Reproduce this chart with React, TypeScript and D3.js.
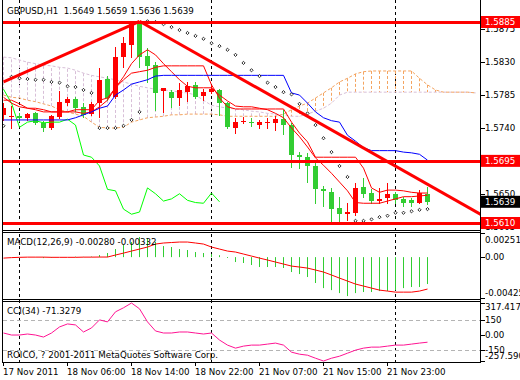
import React from "react";
import * as d3 from "d3";

const titleText = "GBPUSD,H1  1.5649 1.5659 1.5636 1.5639";
const macdTitle = "MACD(12,26,9) -0.00280 -0.00332";
const cciTitle = "CCI(34) -71.3279";
const copyright = "ROICO, ? 2001-2011 MetaQuotes Software Corp.";

const opens = [1.5758, 1.5755, 1.5756, 1.5754, 1.5760, 1.5747, 1.5740, 1.5755, 1.5774, 1.5780, 1.5769, 1.5759, 1.5774, 1.5807, 1.5782, 1.5837, 1.5853, 1.5882, 1.5838, 1.5826, 1.5791, 1.5789, 1.5781, 1.5789, 1.5799, 1.5784, 1.5789, 1.5792, 1.5774, 1.5740, 1.5748, 1.5748, 1.5744, 1.5747, 1.5747, 1.5752, 1.5744, 1.5703, 1.5700, 1.5688, 1.5656, 1.5652, 1.5631, 1.5622, 1.5624, 1.5659, 1.5651, 1.5640, 1.5644, 1.5650, 1.5643, 1.5641, 1.5638, 1.5649];
const highs = [1.5774, 1.5770, 1.5760, 1.5760, 1.5762, 1.5750, 1.5758, 1.5790, 1.5782, 1.5782, 1.5774, 1.5776, 1.5822, 1.5811, 1.5851, 1.5864, 1.5886, 1.5886, 1.5849, 1.5830, 1.5795, 1.5792, 1.5802, 1.5803, 1.5803, 1.5793, 1.5799, 1.5793, 1.5776, 1.5754, 1.5755, 1.5754, 1.5751, 1.5753, 1.5756, 1.5765, 1.5747, 1.5707, 1.5706, 1.5692, 1.5660, 1.5658, 1.5646, 1.5637, 1.5665, 1.5672, 1.5656, 1.5658, 1.5665, 1.5652, 1.5646, 1.5644, 1.5655, 1.5659];
const lows = [1.5751, 1.5740, 1.5750, 1.5751, 1.5745, 1.5736, 1.5739, 1.5754, 1.5771, 1.5763, 1.5755, 1.5758, 1.5755, 1.5778, 1.5781, 1.5823, 1.5837, 1.5823, 1.5803, 1.5765, 1.5762, 1.5769, 1.5771, 1.5777, 1.5781, 1.5778, 1.5788, 1.5758, 1.5740, 1.5733, 1.5747, 1.5743, 1.5740, 1.5740, 1.5737, 1.5732, 1.5687, 1.5685, 1.5666, 1.5637, 1.5633, 1.5611, 1.5610, 1.5614, 1.5621, 1.5646, 1.5638, 1.5637, 1.5638, 1.5637, 1.5633, 1.5633, 1.5637, 1.5636];
const closes = [1.5767, 1.5756, 1.5754, 1.5759, 1.5747, 1.5740, 1.5756, 1.5776, 1.5780, 1.5767, 1.5758, 1.5773, 1.5806, 1.5781, 1.5837, 1.5856, 1.5882, 1.5837, 1.5825, 1.5788, 1.5795, 1.5781, 1.5792, 1.5797, 1.5782, 1.5789, 1.5793, 1.5774, 1.5741, 1.5748, 1.5750, 1.5747, 1.5748, 1.5748, 1.5752, 1.5744, 1.5703, 1.5700, 1.5688, 1.5656, 1.5654, 1.5629, 1.5622, 1.5625, 1.5658, 1.5650, 1.5640, 1.5643, 1.5650, 1.5641, 1.5638, 1.5637, 1.5651, 1.5639];

const tenkan = [1.5778, 1.5778, 1.5773, 1.5767, 1.5765, 1.5762, 1.5762, 1.5762, 1.5762, 1.5765, 1.5765, 1.5765, 1.5778, 1.5781, 1.5795, 1.5806, 1.5815, 1.5817, 1.5819, 1.5823, 1.5825, 1.5825, 1.5825, 1.5825, 1.5825, 1.5825, 1.5799, 1.5781, 1.5769, 1.5766, 1.5766, 1.5766, 1.5766, 1.5766, 1.5766, 1.5766, 1.5748, 1.5733, 1.5721, 1.5700, 1.5700, 1.5700, 1.5700, 1.5700, 1.5700, 1.5685, 1.5658, 1.5652, 1.5655, 1.5655, 1.5654, 1.5652, 1.5651, 1.5651];
const kijun = [1.5751, 1.5751, 1.5751, 1.5751, 1.5751, 1.5751, 1.5751, 1.5751, 1.5751, 1.5754, 1.5758, 1.5762, 1.5767, 1.5770, 1.5785, 1.5792, 1.5800, 1.5803, 1.5806, 1.5811, 1.5812, 1.5812, 1.5812, 1.5812, 1.5812, 1.5812, 1.5812, 1.5812, 1.5812, 1.5812, 1.5812, 1.5812, 1.5812, 1.5812, 1.5812, 1.5812, 1.5788, 1.5785, 1.5774, 1.5762, 1.5754, 1.5750, 1.5748, 1.5730, 1.5722, 1.5713, 1.5709, 1.5709, 1.5709, 1.5709, 1.5707, 1.5706, 1.5704, 1.5696];
const chikou = [1.5793, 1.5774, 1.5741, 1.5748, 1.5750, 1.5747, 1.5748, 1.5748, 1.5752, 1.5744, 1.5703, 1.5700, 1.5688, 1.5656, 1.5654, 1.5629, 1.5622, 1.5625, 1.5658, 1.5650, 1.5640, 1.5643, 1.5650, 1.5641, 1.5638, 1.5637, 1.5651, 1.5639];
const senkouA = [1.5785, 1.5782, 1.5781, 1.5778, 1.5776, 1.5773, 1.5770, 1.5765, 1.5762, 1.5759, 1.5756, 1.5748, 1.5741, 1.5740, 1.5740, 1.5741, 1.5748, 1.5751, 1.5754, 1.5755, 1.5756, 1.5758, 1.5758, 1.5759, 1.5759, 1.5759, 1.5759, 1.5758, 1.5756, 1.5756, 1.5756, 1.5756, 1.5756, 1.5756, 1.5756, 1.5759, 1.5765, 1.5770, 1.5774, 1.5781, 1.5788, 1.5795, 1.5803, 1.5808, 1.5814, 1.5817, 1.5818, 1.5818, 1.5818, 1.5818, 1.5818, 1.5818, 1.5808, 1.5799, 1.5792, 1.5789, 1.5789, 1.5789, 1.5789, 1.5788];
const senkouB = [1.5837, 1.5836, 1.5833, 1.5830, 1.5828, 1.5826, 1.5825, 1.5823, 1.5822, 1.5819, 1.5815, 1.5812, 1.5810, 1.5808, 1.5806, 1.5803, 1.5800, 1.5797, 1.5795, 1.5793, 1.5792, 1.5791, 1.5789, 1.5788, 1.5785, 1.5778, 1.5771, 1.5769, 1.5767, 1.5766, 1.5765, 1.5763, 1.5762, 1.5760, 1.5759, 1.5758, 1.5756, 1.5756, 1.5759, 1.5763, 1.5767, 1.5774, 1.5785, 1.5789, 1.5789, 1.5789, 1.5789, 1.5789, 1.5789, 1.5789, 1.5789, 1.5789, 1.5789, 1.5789, 1.5789, 1.5789, 1.5789, 1.5789, 1.5789, 1.5788];
const movingAvg = [1.5782, 1.5774, 1.5769, 1.5767, 1.5767, 1.5765, 1.5762, 1.5762, 1.5762, 1.5762, 1.5760, 1.5762, 1.5769, 1.5778, 1.5795, 1.5810, 1.5828, 1.5840, 1.5847, 1.5840, 1.5828, 1.5817, 1.5806, 1.5797, 1.5795, 1.5795, 1.5795, 1.5785, 1.5777, 1.5770, 1.5769, 1.5769, 1.5767, 1.5765, 1.5760, 1.5754, 1.5740, 1.5728, 1.5714, 1.5699, 1.5689, 1.5678, 1.5666, 1.5654, 1.5638, 1.5637, 1.5637, 1.5637, 1.5640, 1.5643, 1.5646, 1.5646, 1.5647, 1.5648];
const sar = [1.5743, 1.5810, 1.5808, 1.5807, 1.5806, 1.5806, 1.5803, 1.5802, 1.5797, 1.5796, 1.5792, 1.5788, 1.5740, 1.5740, 1.5740, 1.5743, 1.5751, 1.5762, 1.5886, 1.5885, 1.5882, 1.5878, 1.5874, 1.5870, 1.5866, 1.5862, 1.5856, 1.5852, 1.5847, 1.5840, 1.5829, 1.5819, 1.5811, 1.5802, 1.5796, 1.5789, 1.5786, 1.5773, 1.5760, 1.5744, 1.5726, 1.5707, 1.5688, 1.5673, 1.5613, 1.5613, 1.5615, 1.5618, 1.5620, 1.5624, 1.5624, 1.5626, 1.5628, 1.5629];

const macdMain = [0, 0, 0, 0, -0.00002, -0.0001, -0.00008, 0, 0, 0.00005, 0.00003, 0.00006, 0.00022, 0.00043, 0.00084, 0.00126, 0.00157, 0.00209, 0.00199, 0.00157, 0.00115, 0.00105, 0.00084, 0.00074, 0.00053, 0.00043, 0.00032, 0.0002, -0.00009, -0.00051, -0.00061, -0.00082, -0.00103, -0.00103, -0.00103, -0.00113, -0.00155, -0.00176, -0.00207, -0.00269, -0.00322, -0.00343, -0.00374, -0.00405, -0.00374, -0.00363, -0.00363, -0.00353, -0.00353, -0.00343, -0.00322, -0.00311, -0.00311, -0.0028];
const macdSignal = [-0.0001, -0.00005, -0.00002, 0, 0, 0, -0.00002, -0.00002, -0.00002, -0.00002, 0, 0, 0.00001, 0.00001, 0.00022, 0.00042, 0.00063, 0.00084, 0.00105, 0.00136, 0.00147, 0.00152, 0.00157, 0.00157, 0.00147, 0.00136, 0.00105, 0.00084, 0.00063, 0.00053, 0.00032, 0.00011, -0.0001, -0.0003, -0.00051, -0.00072, -0.00093, -0.00103, -0.00114, -0.00134, -0.00155, -0.00186, -0.00218, -0.00249, -0.0028, -0.00301, -0.00322, -0.00343, -0.00353, -0.00364, -0.00364, -0.00364, -0.00353, -0.00332];
const cciValues = [20, 0, 0, 10, 0, -20, 20, 80, 110, 100, 30, 70, 150, 130, 230, 270, 317.42, 260, 130, 40, 20, 20, 30, 30, 20, 10, 20, -50, -100, -130, -110, -100, -100, -90, -80, -100, -170, -190, -200, -230, -257.59, -230, -210, -180, -150, -130, -120, -120, -110, -100, -100, -90, -80, -71.3279];

const priceTicks = [1.5875, 1.583, 1.5785, 1.574, 1.5695, 1.565, 1.5605];
const hLines = [1.5885, 1.5695, 1.561];
const trendA = [{ i: 0, p: 1.5803 }, { i: 17, p: 1.5886 }];
const trendB = [{ i: 17, p: 1.5886 }, { i: 53, p: 1.5663 }];
const lastPrice = 1.5639;
const macdTicks = [0.00251, 0, -0.00425];
const macdTickLabels = ["0.00251", "0.00", "-0.00425"];
const cciTicks = [317.4173, 150, 0, -150, -257.5901];
const cciTickLabels = ["317.4173", "150", "0.00", "-150", "-257.590"];
const cciLevels = [150, -150];
const timeLabels = ["17 Nov 2011", "18 Nov 06:00", "18 Nov 14:00", "18 Nov 22:00", "21 Nov 07:00", "21 Nov 15:00", "21 Nov 23:00"];
const timeLabelIdx = [0, 8, 16, 24, 32, 40, 48];
const separatorIdx = [2, 26, 49];

export default function App() {
  const L = 3;
  const R = 480;
  const x = d3.scaleLinear().domain([0, 53]).range([3, 427]);
  const yP = d3.scaleLinear().domain([1.561, 1.5885]).range([223, 22]);
  const yM = d3.scaleLinear().domain([-0.00425, 0.00251]).range([298, 233]);
  const yC = d3.scaleLinear().domain([-257.5901, 317.4173]).range([361, 303]);
  const font = "'DejaVu Sans', Tahoma, sans-serif";
  const fs = 8.7;
  const axX = 485;

  const cx = (i: number) => x(i) + 0.5;
  const lineP = d3.line<number>().x((_, i) => cx(i)).y((d) => yP(d));
  const lineM = d3.line<number>().x((_, i) => cx(i)).y((d) => yM(d));
  const lineC = d3.line<number>().x((_, i) => cx(i)).y((d) => yC(d));

  const trendPath = (pts: { i: number; p: number }[], ray: boolean) => {
    const f = d3.scaleLinear().domain([pts[0].i, pts[1].i]).range([pts[0].p, pts[1].p]);
    const endI = ray ? x.invert(R + 5) : pts[1].i;
    return `M${x(pts[0].i) + 0.5},${yP(pts[0].p)}L${x(endI) + 0.5},${yP(f(endI))}`;
  };

  return (
    <div style={{ position: "absolute", left: 0, top: 0 }}>
      <svg width={520} height={380} style={{ display: "block", background: "#fff" }} fontFamily={font} fontSize={fs}>
        <defs>
          <clipPath id="cMain"><rect x={L} y={0} width={R - L} height={230} /></clipPath>
          <clipPath id="cMacd"><rect x={L} y={232} width={R - L} height={67} /></clipPath>
          <clipPath id="cCci"><rect x={L} y={301} width={R - L} height={61} /></clipPath>
        </defs>
        <rect x={0} y={0} width={520} height={380} fill="#fff" />

        {separatorIdx.map((s) => (
          <line key={"sep" + s} x1={cx(s)} x2={cx(s)} y1={0} y2={362} stroke="#000" strokeDasharray="3,3" strokeWidth={1} />
        ))}

        <g clipPath="url(#cMain)">
          {senkouA.map((a, i) => (
            <line key={"k" + i} x1={cx(i)} x2={cx(i)} y1={yP(a)} y2={yP(senkouB[i])}
              stroke={a >= senkouB[i] ? "#F4A460" : "#D8BFD8"} strokeDasharray="3,2" strokeWidth={1} />
          ))}
          <path d={lineP(senkouB) || ""} fill="none" stroke="#D8BFD8" strokeDasharray="3,2" strokeWidth={1} />
          <path d={lineP(senkouA) || ""} fill="none" stroke="#F4A460" strokeDasharray="3,2" strokeWidth={1} />

          {opens.map((o, i) => {
            const c = closes[i];
            const bull = c >= o;
            const color = bull ? "#ff0000" : "#32cd32";
            const yT = Math.round(yP(Math.max(o, c)));
            const yB = Math.round(yP(Math.min(o, c)));
            return (
              <g key={"c" + i}>
                <line x1={cx(i)} x2={cx(i)} y1={Math.round(yP(highs[i]))} y2={Math.round(yP(lows[i])) + 1} stroke={color} strokeWidth={1} />
                <rect x={x(i) - 2} y={yT} width={5} height={Math.max(1, yB - yT)} fill={color} />
              </g>
            );
          })}

          <path d={lineP(chikou) || ""} fill="none" stroke="#00ff00" strokeWidth={1} />
          <path d={lineP(movingAvg) || ""} fill="none" stroke="#ff0000" strokeWidth={1} />
          <path d={lineP(tenkan) || ""} fill="none" stroke="#ff0000" strokeWidth={1} />
          <path d={lineP(kijun) || ""} fill="none" stroke="#0000ff" strokeWidth={1} />

          {sar.map((s, i) => {
            const px = cx(i);
            const py = yP(s);
            return <path key={"s" + i} d={`M${px},${py - 1.6}L${px + 1.6},${py}L${px},${py + 1.6}L${px - 1.6},${py}Z`} fill="#fff" stroke="#000" strokeWidth={0.8} />;
          })}

          {hLines.map((p) => (
            <line key={"h" + p} x1={L} x2={R} y1={Math.round(yP(p)) + 0.5} y2={Math.round(yP(p)) + 0.5} stroke="#ff0000" strokeWidth={3} />
          ))}
          <path d={trendPath(trendA, false)} stroke="#ff0000" strokeWidth={3} fill="none" />
          <path d={trendPath(trendB, true)} stroke="#ff0000" strokeWidth={3} fill="none" />
        </g>

        <g clipPath="url(#cMacd)">
          {macdMain.map((v, i) => (
            <line key={"m" + i} x1={cx(i)} x2={cx(i)} y1={yM(0)} y2={yM(v)} stroke="#32cd32" strokeWidth={1} />
          ))}
          <path d={lineM(macdSignal) || ""} fill="none" stroke="#ff0000" strokeWidth={1} />
        </g>

        <g clipPath="url(#cCci)">
          {cciLevels.map((lv) => (
            <line key={"lv" + lv} x1={L} x2={R} y1={Math.round(yC(lv)) + 0.5} y2={Math.round(yC(lv)) + 0.5} stroke="#b4b4b4" strokeDasharray="4,3" />
          ))}
          <path d={lineC(cciValues) || ""} fill="none" stroke="#ff1493" strokeWidth={1} />
        </g>

        <line x1={L - 0.5} x2={L - 0.5} y1={0} y2={363} stroke="#000" />
        <line x1={R + 0.5} x2={R + 0.5} y1={0} y2={363} stroke="#000" />
        <line x1={L - 0.5} x2={R + 0.5} y1={230.5} y2={230.5} stroke="#000" />
        <line x1={L - 0.5} x2={R + 0.5} y1={232.5} y2={232.5} stroke="#000" />
        <line x1={L - 0.5} x2={R + 0.5} y1={299.5} y2={299.5} stroke="#000" />
        <line x1={L - 0.5} x2={R + 0.5} y1={301.5} y2={301.5} stroke="#000" />
        <line x1={L - 0.5} x2={R + 0.5} y1={362.5} y2={362.5} stroke="#000" />

        {priceTicks.map((p) => (
          <g key={"pt" + p}>
            <line x1={R + 1} x2={R + 5} y1={Math.round(yP(p)) + 0.5} y2={Math.round(yP(p)) + 0.5} stroke="#000" />
            <text x={axX} y={yP(p)} dominantBaseline="central" fill="#000">{p.toFixed(4)}</text>
          </g>
        ))}
        {hLines.map((p) => (
          <g key={"hl" + p}>
            <rect x={481} y={yP(p) - 6} width={39} height={12} fill="#ff0000" />
            <text x={axX} y={yP(p)} dominantBaseline="central" fill="#fff">{p.toFixed(4)}</text>
          </g>
        ))}
        <rect x={481} y={yP(lastPrice) - 6} width={39} height={12} fill="#000" />
        <text x={axX} y={yP(lastPrice)} dominantBaseline="central" fill="#fff">{lastPrice.toFixed(4)}</text>

        {macdTicks.map((v, k) => {
          const ty = k === 0 ? yM(v) + 7 : k === 2 ? yM(v) - 5 : yM(v);
          return (
            <g key={"mt" + k}>
              <line x1={R + 1} x2={R + 5} y1={Math.round(yM(v)) + 0.5} y2={Math.round(yM(v)) + 0.5} stroke="#000" />
              <text x={axX} y={ty} dominantBaseline="central" fill="#000">{macdTickLabels[k]}</text>
            </g>
          );
        })}
        {cciTicks.map((v, k) => {
          const ty = k === 0 ? yC(v) + 4 : k === 4 ? yC(v) - 5 : yC(v);
          return (
            <g key={"ct" + k}>
              <line x1={R + 1} x2={R + 5} y1={Math.round(yC(v)) + 0.5} y2={Math.round(yC(v)) + 0.5} stroke="#000" />
              <text x={axX} y={ty} dominantBaseline="central" fill="#000">{cciTickLabels[k]}</text>
            </g>
          );
        })}

        {timeLabelIdx.map((ti, k) => (
          <g key={"tl" + k}>
            <line x1={cx(ti)} x2={cx(ti)} y1={363} y2={366} stroke="#000" />
            <text x={x(ti)} y={372} dominantBaseline="central" fill="#000">{timeLabels[k]}</text>
          </g>
        ))}

        <text x={7} y={11} dominantBaseline="central" fill="#000" style={{ whiteSpace: "pre" }}>{titleText}</text>
        <text x={7} y={242} dominantBaseline="central" fill="#000">{macdTitle}</text>
        <text x={7} y={311} dominantBaseline="central" fill="#000">{cciTitle}</text>
        <text x={7} y={355} dominantBaseline="central" fill="#000">{copyright}</text>
      </svg>
    </div>
  );
}
